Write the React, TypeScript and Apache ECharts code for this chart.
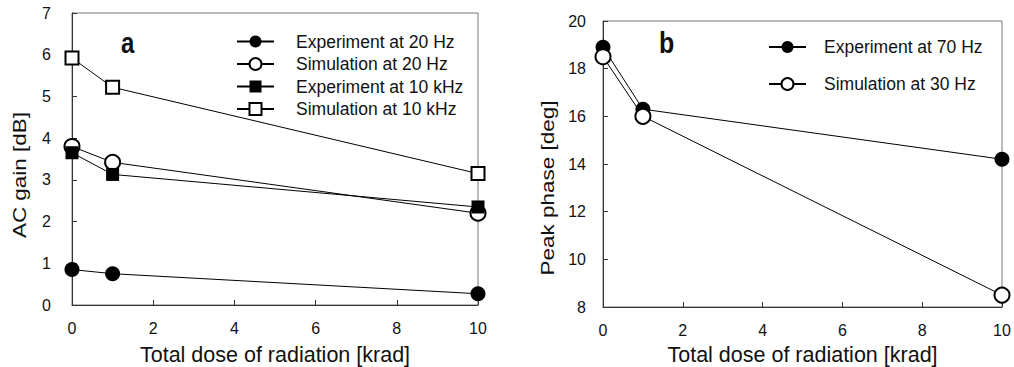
import React, { useEffect, useRef } from "react";
import * as echarts from "echarts";

const doseX = [0, 1, 10];
const expAt20Hz = [0.85, 0.75, 0.27];
const simAt20Hz = [3.8, 3.42, 2.2];
const expAt10kHz = [3.65, 3.13, 2.35];
const simAt10kHz = [5.92, 5.22, 3.15];
const expAt70Hz = [18.9, 16.3, 14.2];
const simAt30Hz = [18.5, 16.0, 8.5];

const FONT = "Liberation Sans, Arial, sans-serif";

const pair = (ys: number[]) => doseX.map((x, i) => [x, ys[i]]);

export default function App() {
  const ref = useRef<HTMLDivElement>(null);
  useEffect(() => {
    if (!ref.current) return;
    const chart = echarts.init(ref.current, undefined, { renderer: "svg" });
    const axisLine = { show: true, lineStyle: { color: "#333", width: 1 } };
    const axisTick = { show: true, inside: true, length: 5, lineStyle: { color: "#333" } };
    const mkX = (gridIndex: number, nameGap: number) => ({
      type: "value",
      gridIndex,
      min: 0,
      max: 10,
      interval: 2,
      axisLine,
      axisTick,
      splitLine: { show: false },
      axisLabel: { color: "#111", fontSize: 16, fontFamily: FONT, margin: 15 },
      name: "Total dose of radiation [krad]",
      nameLocation: "middle",
      nameGap,
      nameTextStyle: { color: "#111", fontSize: 21.5, fontFamily: FONT },
    });
    const mkY = (gridIndex: number, min: number, max: number, interval: number, margin: number) => ({
      type: "value",
      gridIndex,
      min,
      max,
      interval,
      axisLine,
      axisTick,
      splitLine: { show: false },
      axisLabel: { color: "#111", fontSize: 16, fontFamily: FONT, margin },
    });
    const mkSeries = (
      name: string,
      data: number[],
      symbol: string,
      filled: boolean,
      xAxisIndex: number
    ) => ({
      name,
      type: "line",
      xAxisIndex,
      yAxisIndex: xAxisIndex,
      data: pair(data),
      symbol,
      symbolSize: symbol === "circle" ? 15 : 13,
      showAllSymbol: true,
      clip: false,
      lineStyle: { color: "#000", width: 1 },
      itemStyle: {
        color: filled ? "#000" : "#fff",
        borderColor: "#000",
        borderWidth: filled ? 0 : 2,
      },
      emphasis: { disabled: true },
    });
    const legendText = (pad: number) => ({
      color: "#111",
      fontSize: 17.5,
      lineHeight: 16,
      fontFamily: FONT,
      padding: [0, 0, 0, pad],
    });
    chart.setOption({
      animation: false,
      backgroundColor: "#fff",
      grid: [
        {
          left: 72, top: 13, width: 406, height: 292, show: true, borderColor: "#777", borderWidth: 1,
          containLabel: false, outerBoundsMode: "none",
        },
        {
          left: 603, top: 21, width: 399, height: 286, show: true, borderColor: "#777", borderWidth: 1,
          containLabel: false, outerBoundsMode: "none",
        },
      ],
      xAxis: [mkX(0, 39), mkX(1, 36.5)],
      yAxis: [mkY(0, 0, 7, 1, 21), mkY(1, 8, 20, 2, 17)],
      legend: [
        {
          orient: "vertical",
          left: 236,
          top: 32.5,
          padding: 0,
          itemWidth: 37,
          itemHeight: 15,
          itemGap: 4.5,
          textStyle: legendText(17),
          data: ["Experiment at 20 Hz", "Simulation at 20 Hz", "Experiment at 10 kHz", "Simulation at 10 kHz"],
          selectedMode: false,
        },
        {
          orient: "vertical",
          left: 768,
          top: 38,
          padding: 0,
          itemWidth: 37,
          itemHeight: 15,
          itemGap: 19,
          textStyle: legendText(13),
          data: ["Experiment at 70 Hz", "Simulation at 30 Hz"],
          selectedMode: false,
        },
      ],
      graphic: [
        {
          type: "text",
          x: 121,
          y: 58,
          scaleY: 1.2,
          style: { text: "a", font: `bold 24px ${FONT}`, fill: "#111", textVerticalAlign: "bottom" },
        },
        {
          type: "text",
          x: 659,
          y: 58,
          scaleY: 1.15,
          style: { text: "b", font: `bold 25px ${FONT}`, fill: "#111", textVerticalAlign: "bottom" },
        },
        {
          type: "text",
          x: 20,
          y: 175,
          rotation: Math.PI / 2,
          scaleX: 1.25,
          style: {
            text: "AC gain [dB]",
            font: `18px ${FONT}`,
            fill: "#111",
            textAlign: "center",
            textVerticalAlign: "middle",
          },
        },
        {
          type: "text",
          x: 548,
          y: 188,
          rotation: Math.PI / 2,
          scaleX: 1.25,
          style: {
            text: "Peak phase [deg]",
            font: `18px ${FONT}`,
            fill: "#111",
            textAlign: "center",
            textVerticalAlign: "middle",
          },
        },
      ],
      series: [
        mkSeries("Experiment at 20 Hz", expAt20Hz, "circle", true, 0),
        mkSeries("Simulation at 20 Hz", simAt20Hz, "circle", false, 0),
        mkSeries("Experiment at 10 kHz", expAt10kHz, "rect", true, 0),
        mkSeries("Simulation at 10 kHz", simAt10kHz, "rect", false, 0),
        mkSeries("Experiment at 70 Hz", expAt70Hz, "circle", true, 1),
        mkSeries("Simulation at 30 Hz", simAt30Hz, "circle", false, 1),
      ],
    });
    return () => chart.dispose();
  }, []);
  return <div ref={ref} style={{ width: 1014, height: 367, position: "absolute", left: 0, top: 0 }} />;
}
